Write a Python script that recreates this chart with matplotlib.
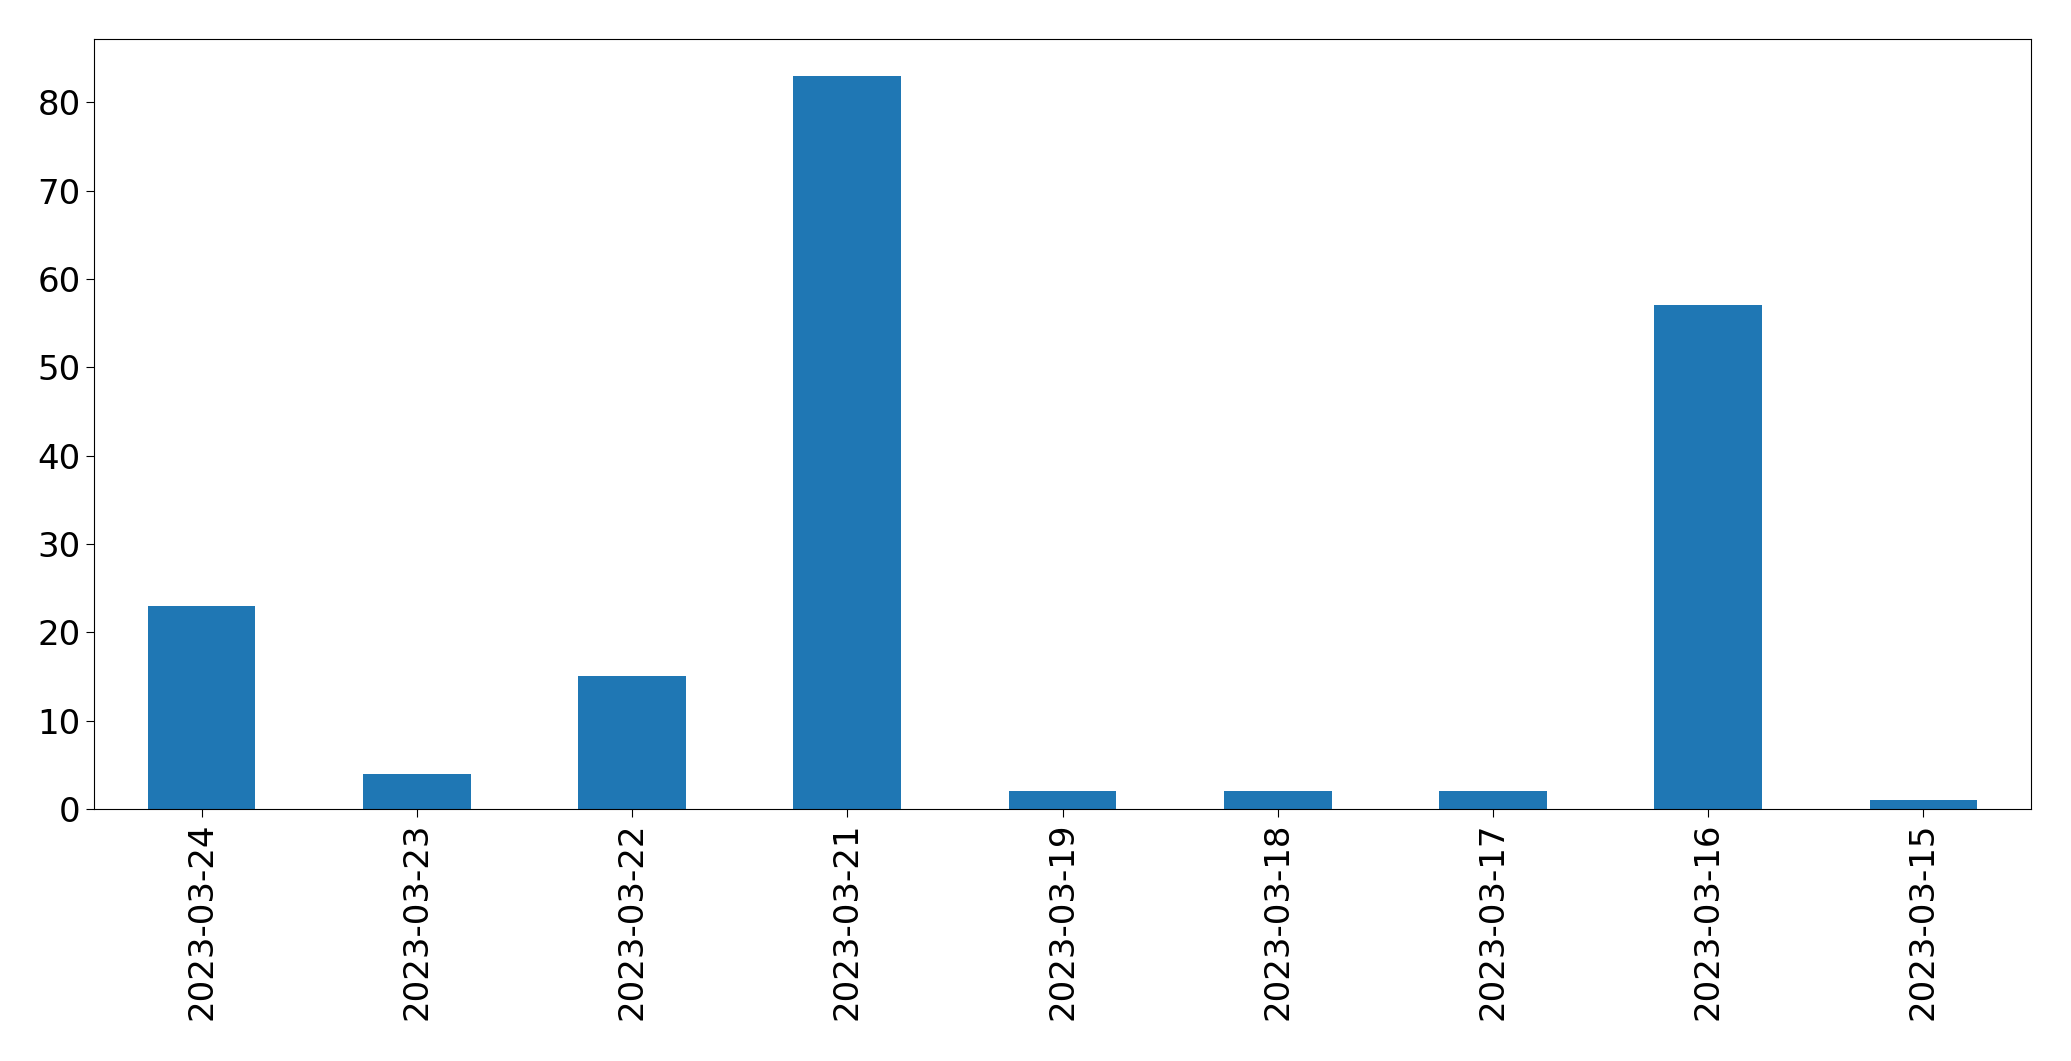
import matplotlib
matplotlib.use("Agg")
import matplotlib.pyplot as plt
import numpy as np

dates = ["2023-03-24", "2023-03-23", "2023-03-22", "2023-03-21", "2023-03-19",
         "2023-03-18", "2023-03-17", "2023-03-16", "2023-03-15"]
counts = [23, 4, 15, 83, 2, 2, 2, 57, 1]

fig = plt.figure(figsize=(20.71, 10.61), dpi=100)
ax = fig.add_axes([0.0454, 0.2375, 0.9353, 0.7257])
x = np.arange(len(dates))
ax.bar(x, counts, width=0.5, color="#1f77b4")
ax.set_xlim(-0.5, len(dates) - 0.5)
ax.set_xticks(x)
ax.set_xticklabels(dates, rotation=90)
ax.tick_params(axis="both", labelsize=24.5, length=6)
ax.set_yticks(range(0, 81, 10))
fig.savefig("out.png", dpi=100)
